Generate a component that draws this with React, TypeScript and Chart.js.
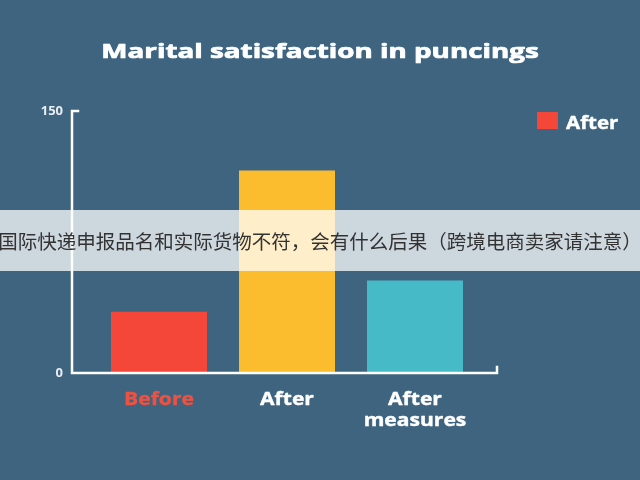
import { useEffect, useRef } from "react"
import { Chart, registerables } from "chart.js"

Chart.register(...registerables)

const categories = ["Before", "After", ["After", "measures"]]
const values = [35, 116, 53]
const barColors = ["#f4473a", "#fbbd2e", "#47bac8"]
const labelColors = ["#ec5242", "#ffffff", "#ffffff"]
const seriesLabel = "After"
const yTicks = [0, 150]
const title = "Marital satisfaction in puncings"
const banner = "国际快递申报品名和实际货物不符，会有什么后果（跨境电商卖家请注意）"

const BG = "#3e6480"
const FONT = "'Open Sans', 'Noto Sans', sans-serif"

// the reference lettering is wide and heavy, so text is drawn stretched with a thin outline
function wideText(ctx: any, text: string, x: number, y: number, size: number, sx: number, align: string, heavy = 0) {
  ctx.save()
  ctx.font = `bold ${size}px ${FONT}`
  ctx.textBaseline = "alphabetic"
  ctx.textAlign = align
  ctx.translate(x, y)
  ctx.scale(sx, 1)
  ctx.fillText(text, 0, 0)
  if (heavy > 0) {
    ctx.strokeStyle = ctx.fillStyle
    ctx.lineWidth = heavy
    ctx.lineJoin = "round"
    ctx.strokeText(text, 0, 0)
  }
  ctx.restore()
}

const decor = {
  id: "decor",
  beforeDraw(chart: any) {
    const { ctx, width, height } = chart
    ctx.save()
    ctx.fillStyle = BG
    ctx.fillRect(0, 0, width, height)
    ctx.restore()
  },
  afterDraw(chart: any) {
    const { ctx, chartArea } = chart
    const y = chart.scales.y
    const x = chart.scales.x
    const top = y.getPixelForValue(yTicks[1])
    const bottom = y.getPixelForValue(yTicks[0])
    const left = chartArea.left - 23
    const right = chartArea.right + 18
    ctx.save()
    ctx.strokeStyle = "#ffffff"
    ctx.lineWidth = 2.5
    ctx.lineCap = "square"
    ctx.beginPath()
    ctx.moveTo(left + 6, top)
    ctx.lineTo(left, top)
    ctx.lineTo(left, bottom)
    ctx.lineTo(right, bottom)
    ctx.lineTo(right, bottom - 6)
    ctx.stroke()

    // title
    ctx.fillStyle = "#ffffff"
    wideText(ctx, title, chart.width / 2, 57.5, 20, 1.39, "center", 0.7)

    // category labels
    categories.forEach((c, i) => {
      const lines = Array.isArray(c) ? c : [c]
      const cx = x.getPixelForValue(i)
      ctx.fillStyle = labelColors[i]
      lines.forEach((line, j) => {
        wideText(ctx, line, cx, bottom + 32 + j * 21, 18, 1.17, "center", 0.4)
      })
    })

    // legend
    const ds = chart.data.datasets[0]
    ctx.fillStyle = ds.backgroundColor[0]
    ctx.fillRect(537, 112, 21, 17)
    ctx.fillStyle = "#ffffff"
    wideText(ctx, ds.label, 566, 128.5, 17.5, 1.17, "left", 0.4)
    ctx.restore()
  },
}

function BarChart() {
  const chartRef = useRef<HTMLCanvasElement>(null)
  const chartInstance = useRef<Chart | null>(null)

  useEffect(() => {
    if (!chartRef.current) return
    if (chartInstance.current) chartInstance.current.destroy()
    const ctx = chartRef.current.getContext("2d")
    if (!ctx) return

    chartInstance.current = new Chart(ctx, {
      type: "bar",
      data: {
        labels: categories as any,
        datasets: [
          {
            label: seriesLabel,
            data: values,
            backgroundColor: barColors,
            borderWidth: 0,
            categoryPercentage: 0.75,
            barPercentage: 1,
          },
        ],
      },
      options: {
        animation: false,
        responsive: false,
        maintainAspectRatio: false,
        layout: { padding: { left: 0, right: 161, top: 111, bottom: 0 } },
        plugins: {
          legend: { display: false },
          tooltip: { enabled: false },
          title: { display: false },
        },
        scales: {
          x: {
            grid: { display: false, drawTicks: false },
            border: { display: false },
            ticks: { display: false },
            afterFit(scale: any) {
              scale.height = 107
            },
          },
          y: {
            min: yTicks[0],
            max: yTicks[1],
            grid: { display: false, drawTicks: false },
            border: { display: false },
            ticks: {
              stepSize: 150,
              color: "#e8edf0",
              padding: 32,
              font: { family: FONT, size: 13, weight: "bold" },
            },
            afterFit(scale: any) {
              scale.width = 95
            },
          },
        },
      },
      plugins: [decor],
    })

    return () => {
      if (chartInstance.current) chartInstance.current.destroy()
    }
  }, [])

  return <canvas ref={chartRef} width={640} height={480}></canvas>
}

export default function App() {
  return (
    <div style={{ position: "fixed", left: 0, top: 0, width: 640, height: 480, background: BG, overflow: "hidden" }}>
      <BarChart />
      <div
        style={{
          position: "absolute",
          left: 0,
          top: 210,
          width: 640,
          height: 61,
          background: "rgba(255,255,255,0.74)",
          display: "flex",
          alignItems: "center",
          justifyContent: "center",
          whiteSpace: "nowrap",
          fontFamily: "'Noto Sans CJK SC', sans-serif",
          fontSize: 19.5,
          color: "#333333",
        }}
      >
        {banner}
      </div>
    </div>
  )
}
